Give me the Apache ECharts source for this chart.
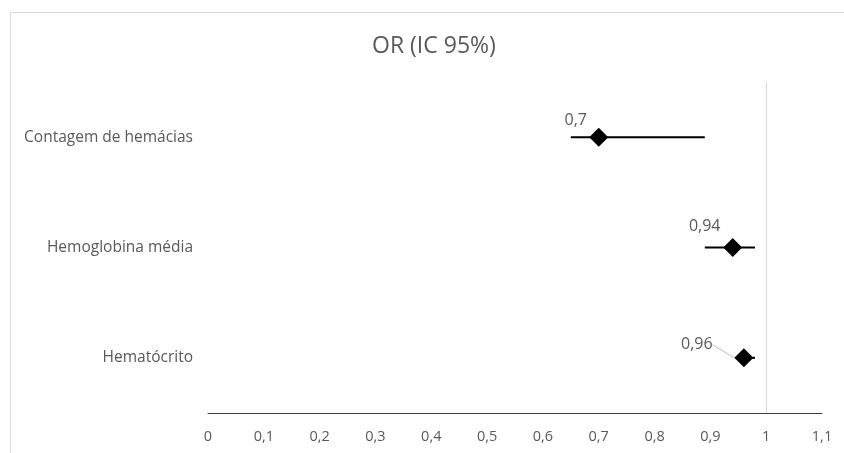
<!DOCTYPE html>
<html>
<head>
<meta charset="utf-8">
<script src="https://cdn.jsdelivr.net/npm/echarts@6/dist/echarts.min.js"></script>
<style>
  html, body { margin: 0; padding: 0; background: #fff; }
  #chart { width: 844px; height: 453px; }
</style>
</head>
<body>
<div id="chart"></div>
<script>
// Odds ratios with 95% confidence intervals
const categories = ['Contagem de hemácias', 'Hemoglobina média', 'Hematócrito'];
const orValues = [0.7, 0.94, 0.96];
const ciLow = [0.65, 0.89, 0.95];
const ciHigh = [0.89, 0.98, 0.98];
const xTicks = [0, 0.1, 0.2, 0.3, 0.4, 0.5, 0.6, 0.7, 0.8, 0.9, 1, 1.1];
const refLine = 1;

// label offsets (px) relative to each diamond; the last one gets a leader line
const labelShift = [[-23, -17], [-28, -21], [-47, -13]];
const leaderLine = [false, false, true];

const fmt = v => String(v).replace('.', ',');
const textColor = '#595959';
const font = '"Open Sans", "Liberation Sans", sans-serif';

const chart = echarts.init(document.getElementById('chart'), null, { renderer: 'canvas' });

chart.setOption({
  animation: false,
  backgroundColor: '#ffffff',
  title: {
    text: 'OR (IC 95%)',
    left: 367,
    top: 30,
    textStyle: { color: textColor, fontSize: 23, fontWeight: 'normal', fontFamily: font }
  },
  graphic: [{
    type: 'rect',
    silent: true,
    shape: { x: 10.5, y: 12.5, width: 900, height: 500 },
    style: { fill: null, stroke: '#d9d9d9', lineWidth: 1 }
  }],
  grid: { left: 208, right: 22, top: 82, bottom: 40, containLabel: false },
  xAxis: {
    type: 'value',
    min: xTicks[0],
    max: xTicks[xTicks.length - 1],
    interval: 0.1,
    axisLine: { show: true, onZero: false, lineStyle: { color: '#404040', width: 1 } },
    axisTick: { show: false },
    splitLine: { show: false },
    axisLabel: {
      color: textColor, fontSize: 14.5, fontFamily: font, margin: 16,
      formatter: v => fmt(Math.round(v * 10) / 10)
    }
  },
  yAxis: {
    type: 'category',
    data: categories,
    inverse: true,
    axisLine: { show: false },
    axisTick: { show: false },
    splitLine: { show: false },
    axisLabel: { color: textColor, fontSize: 15.5, fontFamily: font, margin: 15 }
  },
  series: [
    {
      // confidence interval whiskers
      type: 'custom',
      silent: true,
      z: 2,
      data: categories.map((c, i) => [ciLow[i], ciHigh[i], i]),
      encode: { x: [0, 1], y: 2 },
      renderItem: (params, api) => {
        const a = api.coord([api.value(0), api.value(2)]);
        const b = api.coord([api.value(1), api.value(2)]);
        return {
          type: 'line',
          shape: { x1: a[0], y1: a[1], x2: b[0], y2: b[1] },
          style: { stroke: '#000', lineWidth: 2 }
        };
      }
    },
    {
      // point estimates
      type: 'scatter',
      z: 3,
      symbol: 'diamond',
      symbolSize: [19, 19],
      itemStyle: { color: '#000', opacity: 1 },
      data: categories.map((c, i) => ({
        value: [orValues[i], i],
        labelLine: { show: leaderLine[i] }
      })),
      label: {
        show: true,
        position: 'inside',
        color: textColor,
        fontSize: 16,
        fontFamily: font,
        formatter: p => fmt(p.value[0])
      },
      labelLayout: p => ({ dx: labelShift[p.dataIndex][0], dy: labelShift[p.dataIndex][1] }),
      labelLine: { lineStyle: { color: '#bfbfbf', width: 1 } },
      markLine: {
        silent: true,
        symbol: 'none',
        label: { show: false },
        lineStyle: { color: '#d9d9d9', type: 'solid', width: 1 },
        data: [{ xAxis: refLine }]
      }
    }
  ]
});
</script>
</body>
</html>
